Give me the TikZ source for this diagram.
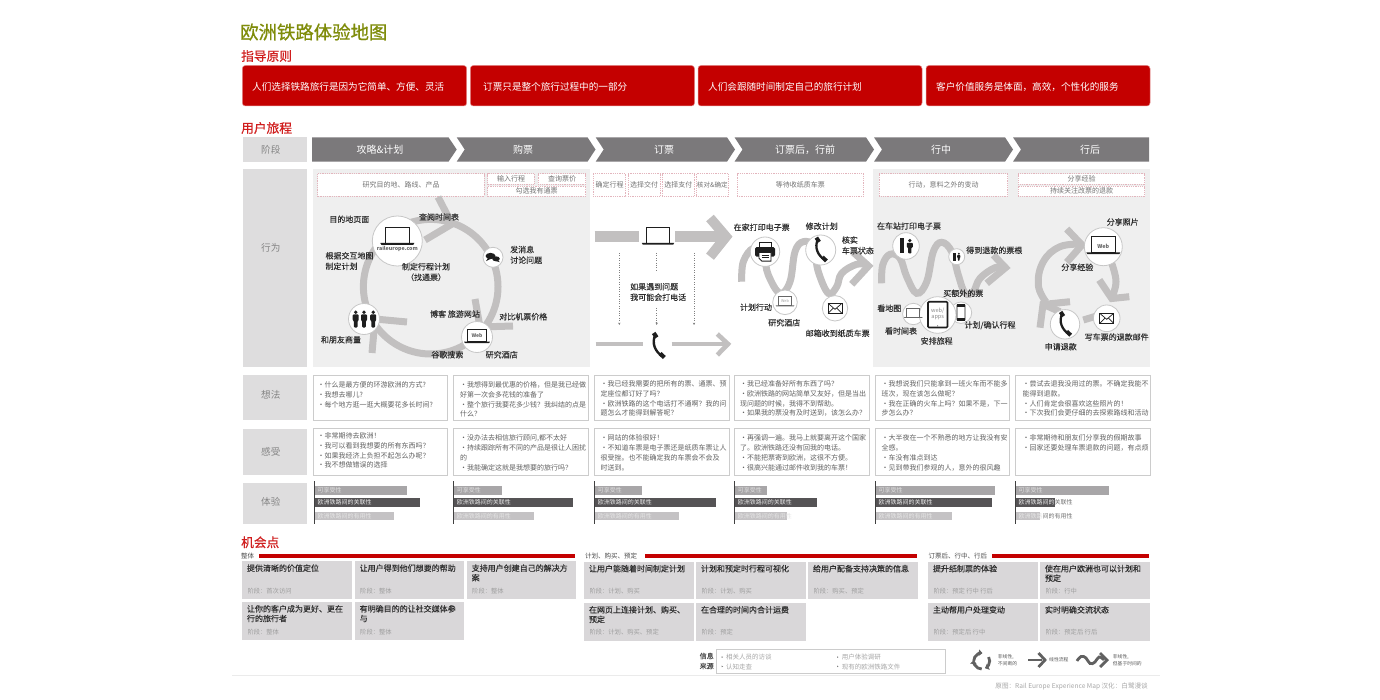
\documentclass[tikz,border=0pt]{standalone}
\usepackage{fontspec}
\setmainfont{Noto Sans CJK SC}
\newfontfamily\fmed[FakeBold=0.08]{Noto Sans CJK SC}
\newfontfamily\fhead[FakeBold=0.7]{Noto Sans CJK SC}
\usetikzlibrary{arrows.meta}
\definecolor{cOlive}{HTML}{7F8C0A}
\definecolor{cHead}{HTML}{D01E1E}
\definecolor{cRed}{HTML}{C40000}
\definecolor{cChev}{HTML}{7B797B}
\definecolor{cLab}{HTML}{DEDDDE}
\definecolor{cPanel}{HTML}{EFEFEF}
\definecolor{cTrack}{HTML}{C2C0C0}
\definecolor{cDash}{HTML}{E3B5BD}
\definecolor{cCard}{HTML}{D9D7D9}
\definecolor{cBarA}{HTML}{A8A6A8}
\definecolor{cBarB}{HTML}{555355}
\definecolor{cBarC}{HTML}{C4C2C4}
\definecolor{cIcon}{HTML}{1E1E1E}
\newcommand\fs[2]{\fontsize{#1}{#2}\selectfont}
\tikzset{
  tboxbase/.style={inner sep=0pt,outer sep=0pt,align=center},
  heading/.style={anchor=west,inner sep=0pt,text=cHead,font=\fhead\fs{12.7}{14}},
  redbox/.style={tboxbase,fill=cRed,draw=cRed!45,line width=.5pt,rounded corners=3pt},
  labbox/.style={tboxbase,fill=cLab},
  labtxt/.style={inner sep=0pt,text=black!48,font=\fs{9.6}{12}},
  dashbox/.style={tboxbase,fill=white,draw=cDash,line width=.5pt,dash pattern=on 1pt off .8pt,text=black!55,font=\fs{7}{9}},
  thinkbox/.style={tboxbase,fill=white,draw=black!20,line width=.9pt},
  thinktxt/.style={anchor=north west,inner sep=0pt,align=left,text=black!62,font=\fs{7}{9.8}},
  stagetxt/.style={inner sep=0pt,text=white,font=\fs{10}{12}},
  stagefill/.style={fill=cChev},
  track/.style={draw=cTrack,line width=7pt,line join=miter,line cap=butt},
  wcirc/.style={circle,draw=black!22,fill=white,line width=.8pt,inner sep=0pt,outer sep=0pt},
  lbl/.style={inner sep=0pt,align=left,text=black!82,font=\fmed\fs{8}{10}},
  cardbox/.style={tboxbase,fill=cCard},
  cardt/.style={anchor=north west,inner sep=0pt,align=left,text=black!82,font=\fmed\fs{8}{9.6}},
  cards/.style={anchor=west,inner sep=0pt,text=black!38,font=\fs{6.3}{8}},
  bartxt/.style={anchor=west,inner sep=0pt,font=\fs{6}{7}},
  grp/.style={anchor=west,inner sep=0pt,text=black!70,font=\fs{6.5}{8}},
  src/.style={anchor=west,inner sep=0pt,text=black!35,font=\fs{6.5}{8}},
  legt/.style={anchor=west,inner sep=0pt,align=left,text=black!65,font=\fs{4.8}{6.6}},
}
% box from corners
\newcommand\cbox[7]{%
  \pgfmathsetmacro\bw{#5-#3}\pgfmathsetmacro\bh{#6-#4}%
  \pgfmathsetmacro\bx{(#3+#5)/2}\pgfmathsetmacro\by{(#4+#6)/2}%
  \node[#2,minimum width=\bw pt,minimum height=\bh pt] (#1) at (\bx,\by) {#7};}
\newcommand\stagepoly[2]{\fill[stagefill] (#1,137.3) -- (#2-8,137.3) -- (#2,149.5) -- (#2-8,161.7) -- (#1,161.7) -- (#1+8,149.5) -- cycle;}
\newcommand\thought[4]{\node[thinktxt] (#1) at (#2,#3) {#4};}
\newcommand\expbars[8]{%
  \fill[cBarA] (#2,486) rectangle (#3,494.7);
  \fill[cBarB] (#2,498.3) rectangle (#4,507);
  \fill[cBarC] (#2,511.7) rectangle (#5,520.3);
  \draw[draw=black!75,line width=.9pt] (#2,481) -- (#2,524.3);
  \node[bartxt,text=white!88!black] (#1a) at (#2+3,490.3) {#6};
  \node[bartxt,text=white!92!black] (#1b) at (#2+3,502.7) {#7};
  \node[bartxt,text=white!90!black] (#1c) at (#2+3,516) {#8};}
\newcommand\oppcard[8]{%
  \cbox{#1}{cardbox}{#2}{#3}{#4}{#5}{}
  \node[cardt] (#1t) at ([shift={(4.5,3.2)}]#1.north west) {#6};
  \node[cards] (#1s) at (#2+5,#8) {#7};}
\newcommand\iconLaptop[4]{% cx, y of screen bottom, scale, colour
  \begin{scope}[shift={(#1,#2)},scale=#3]
    \fill[white] (-12,-16) rectangle (12,0);
    \draw[draw=#4,line width=.9pt] (-12,-16) rectangle (12,0);
    \fill[#4] (-17,0) -- (17,0) -- (16,1.8) -- (-16,1.8) -- cycle;
  \end{scope}}
\newcommand\iconEnv[2]{%
  \begin{scope}[shift={(#1,#2)}]
    \draw[draw=cIcon,line width=.9pt,fill=white] (-7,-5) rectangle (7,5);
    \draw[draw=cIcon,line width=.7pt] (-7,-5) -- (0,1) -- (7,-5) (-7,5) -- (-1.5,-.5) (7,5) -- (1.5,-.5);
  \end{scope}}
\newcommand\iconPhone[3]{%
  \begin{scope}[shift={(#1,#2)},scale=#3]
    \draw[draw=cIcon,line width=#3*2.4pt] (-3,-11) .. controls (-7,-3) and (-3,6) .. (4,10);
    \draw[draw=cIcon,line width=#3*4.2pt] (-4.6,-13) -- (-1.6,-8.5);
    \draw[draw=cIcon,line width=#3*4.2pt] (1.8,7.5) -- (6,11.5);
  \end{scope}}
\newcommand\iconPerson[3]{%
  \begin{scope}[shift={(#1,#2)},scale=#3]
    \fill[cIcon] (0,-6.4) circle[radius=1.9];
    \fill[cIcon,rounded corners=1pt] (-3,-4.2) -- (3,-4.2) -- (3,2) -- (1.8,2) -- (1.8,9) -- (-1.8,9) -- (-1.8,2) -- (-3,2) -- cycle;
  \end{scope}}
\newcommand\iconGate[3]{%
  \begin{scope}[shift={(#1,#2)},scale=#3]
    \fill[cIcon] (-6,-7.6) rectangle (-1.7,7.4);
    \fill[cIcon] (3.8,-5.4) circle[radius=1.8];
    \fill[cIcon,rounded corners=.8pt] (.8,-3.2) -- (6.8,-3.2) -- (6.8,1.5) -- (5.4,1.5) -- (5.4,7.4) -- (2.2,7.4) -- (2.2,1.5) -- (.8,1.5) -- cycle;
  \end{scope}}
\begin{document}
\begin{tikzpicture}[x=1pt,y=-1pt]
\useasboundingbox (0,0) rectangle (1380,700);
\fill[white] (0,0) rectangle (1380,700);
% ---------- headings
\node[anchor=west,inner sep=0pt,text=cOlive,font=\fhead\fs{18.4}{20}] (title) at (240,32) {欧洲铁路体验地图};
\node[heading] (hA) at (241,56) {指导原则};
\node[heading] (hB) at (241,128) {用户旅程};
\node[heading] (hC) at (241,542.3) {机会点};
% ---------- principles
\cbox{pA}{redbox}{242.3}{65.5}{466.7}{106}{}
\cbox{pB}{redbox}{470.3}{65.5}{694.5}{106}{}
\cbox{pC}{redbox}{698}{65.5}{922}{106}{}
\cbox{pD}{redbox}{926}{65.5}{1150}{106}{}
\tikzset{ptxt/.style={anchor=west,inner sep=0pt,text=white,font=\fs{9.6}{11}}}
\node[ptxt] (pAt) at (252,87) {人们选择铁路旅行是因为它简单、方便、灵活};
\node[ptxt] (pBt) at (483,87) {订票只是整个旅行过程中的一部分};
\node[ptxt] (pCt) at (708,87) {人们会跟随时间制定自己的旅行计划};
\node[ptxt] (pDt) at (936,87) {客户价值服务是体面，高效，个性化的服务};
% ---------- stages
\cbox{lStage}{labbox}{243.3}{137.3}{306.7}{161.7}{}
\node[labtxt] (lStageT) at (270.8,149.5) {阶段};
\fill[stagefill] (312,137.3) -- (448.5,137.3) -- (456.7,149.5) -- (448.5,161.7) -- (312,161.7) -- cycle;
\stagepoly{456.7}{595.5}
\stagepoly{595.7}{735}
\stagepoly{734.5}{874}
\stagepoly{874}{1013}
\fill[stagefill] (1013,137.3) -- (1149,137.3) -- (1149,161.7) -- (1013,161.7) -- (1021,149.5) -- cycle;
\node[stagetxt] (s1) at (380,149.5) {攻略\&计划};
\node[stagetxt] (s2) at (523,149.5) {购票};
\node[stagetxt] (s3) at (664,149.5) {订票};
\node[stagetxt] (s4) at (805,149.5) {订票后，行前};
\node[stagetxt] (s5) at (941,149.5) {行中};
\node[stagetxt] (s6) at (1090,149.5) {行后};
% ---------- behaviour panels
\cbox{lAct}{labbox}{243.3}{169}{306.7}{366.5}{}
\node[labtxt] (lActT) at (270.8,248) {行为};
\fill[cPanel] (313,169) rectangle (590,366.5);
\fill[cPanel] (873.3,169) rectangle (1150,366.5);
\cbox{d1}{dashbox}{317.7}{173.7}{484.3}{196.3}{研究目的地、路线、产品}
\cbox{d2}{dashbox}{487.7}{173.7}{534.3}{184}{输入行程}
\cbox{d3}{dashbox}{538.3}{173.7}{585.7}{184}{查询票价}
\cbox{d4}{dashbox}{487.7}{186}{585.7}{196.3}{勾选我有通票}
\cbox{d5}{dashbox}{593.3}{173.7}{625.7}{196.3}{确定行程}
\cbox{d6}{dashbox}{628}{173.7}{660.3}{196.3}{选择交付}
\cbox{d7}{dashbox}{662.3}{173.7}{694.3}{196.3}{选择支付}
\cbox{d8}{dashbox}{696}{173.7}{728.7}{196.3}{\fs{6.6}{9}核对\&确定}
\cbox{d9}{dashbox}{737}{173.7}{863.7}{196.3}{等待收纸质车票}
\cbox{d10}{dashbox}{879.3}{173.7}{1007.7}{196.3}{行动，意料之外的变动}
\cbox{d11}{dashbox}{1018.3}{173.7}{1144.7}{184.5}{分享经验}
\cbox{d12}{dashbox}{1018.3}{186}{1144.7}{196.3}{持续关注改票的退款}
% ---------- loop 1 (planning)
\draw[track] (430.7,286.7) circle[radius=67.3];
\draw[track] (438,197) -- (452,224) -- (425,240);
\draw[track] (475,299) -- (480,327) -- (513,326);
\draw[track] (407,322) -- (375,319) -- (372,353);
\node[wcirc,minimum size=50pt] (cRail) at (397.3,241) {};
\node[wcirc,minimum size=20pt] (cChat) at (493,257.3) {};
\node[wcirc,minimum size=31pt] (cPeople) at (364,319) {};
\node[wcirc,minimum size=31pt] (cWebA) at (477,337) {};
\iconLaptop{397.3}{243}{1}{cIcon}
\node[inner sep=0pt,text=black!60,font=\fs{5.3}{6}\bfseries] (tRail) at (397.3,248.6) {raileurope.com};
\fill[cIcon] (490.5,256) ellipse[x radius=5,y radius=3.1];
\fill[cIcon] (488,258) -- (486,261.2) -- (491,258.6) -- cycle;
\fill[cIcon] (496,258.8) ellipse[x radius=3.8,y radius=2.5];
\fill[cIcon] (497.5,260) -- (500,262.2) -- (495.6,261) -- cycle;
\iconPerson{355.7}{318.6}{1}
\iconPerson{364}{318.6}{1}
\iconPerson{373.2}{318.6}{1}
\iconLaptop{477}{341.7}{.76}{cIcon}
\node[inner sep=0pt,text=black!60,font=\fs{5}{6}\bfseries] (tWebA) at (477,335.7) {Web};
\node[lbl] (a1) at (349.3,219.3) {目的地页面};
\node[lbl] (a2) at (439,217) {查阅时间表};
\node[lbl,anchor=west,font=\fmed\fs{8}{10.6}] (a3) at (325.3,261) {根据交互地图\\制定计划};
\node[lbl,anchor=west,font=\fmed\fs{8}{10.6}] (a4) at (510,254.8) {发消息\\讨论问题};
\node[lbl,align=center,font=\fmed\fs{8}{10.6}] (a5) at (426,272) {制定行程计划\\（找通票）};
\node[lbl] (a6) at (455,314) {博客 旅游网站};
\node[lbl] (a7) at (523.3,316.7) {对比机票价格};
\node[lbl] (a8) at (341,339.7) {和朋友商量};
\node[lbl] (a9) at (447.3,354.7) {谷歌搜索};
\node[lbl] (a10) at (501.7,354.7) {研究酒店};
% ---------- ticket lane
\draw[draw=cTrack,line width=11pt] (594.7,236.7) -- (639.3,236.7);
\draw[draw=cTrack,line width=11pt] (675.3,236.7) -- (724,236.7);
\draw[draw=cTrack,line width=10pt,line join=miter] (710,218) -- (726,236.7) -- (710,256.7);
\iconLaptop{658}{243}{.95}{cIcon}
\tikzset{dots/.style={draw=black!50,line width=.5pt,dash pattern=on .8pt off 1.6pt,-{Stealth[length=2.4pt,width=2.4pt]}}}
\draw[dots] (619.3,253) -- (619.3,325);
\draw[dots,-] (656.7,253) -- (656.7,271);
\draw[dots] (656.7,308) -- (656.7,325);
\draw[dots] (694,253) -- (694,325);
\node[lbl,anchor=west,font=\fmed\fs{8}{10.6}] (b1) at (630,292) {如果遇到问题\\我可能会打电话};
\draw[draw=cTrack,line width=4.6pt] (595.7,344) -- (643.3,344);
\draw[draw=cTrack,line width=4.6pt] (671.7,344) -- (726,344);
\draw[draw=cTrack,line width=4.6pt,line join=miter] (717.3,334) -- (728,344) -- (717.3,355);
\iconPhone{658.3}{346}{1}
% ---------- snake after booking
\draw[track] plot[smooth,tension=.65] coordinates {(741.7,281.7) (743.3,261.7) (753.3,248.3) (763.3,255) (768.3,275) (780,293.3) (790,281.7) (795,251.7) (803.3,241.7) (813.3,246.7) (818.3,271.7) (828.3,293.3) (836.7,286.7) (841.7,273.3) (856.7,264.3) (868,265)};
\draw[track] (853.3,252.3) -- (868.5,266) -- (851.7,284.3);
\node[wcirc,minimum size=29.4pt] (cPrint) at (765,251.7) {};
\node[wcirc,minimum size=30pt] (cPhoneA) at (820.7,250) {};
\node[wcirc,minimum size=24.6pt] (cWebB) at (785,302.3) {};
\node[wcirc,minimum size=25.4pt] (cEnvA) at (835,308.3) {};
\begin{scope}[shift={(765,251.7)}]
  \draw[draw=cIcon,line width=.9pt,fill=white] (-6,-9.5) rectangle (6,-4);
  \fill[cIcon,rounded corners=1.5pt] (-10,-4.5) rectangle (10,5);
  \draw[draw=cIcon,line width=.9pt,fill=white] (-6,.8) -- (6,.8) -- (6,9.5) -- (-3,9.5) -- (-6,6.5) -- cycle;
  \draw[draw=cIcon,line width=.6pt] (-3.5,3.4) -- (3.5,3.4) (-3,6) -- (3.5,6);
\end{scope}
\iconPhone{820.7}{250}{.95}
\iconLaptop{785}{305.3}{.55}{black!60}
\node[inner sep=0pt,text=black!38,font=\fs{3.8}{4}] (tWebB) at (785,301.2) {Web};
\iconEnv{835}{308.3}
\node[lbl] (c1) at (761.7,227.3) {在家打印电子票};
\node[lbl] (c2) at (821.7,226.3) {修改计划};
\node[lbl,anchor=west,font=\fmed\fs{8}{10.6}] (c3) at (841.7,245.3) {核实\\车票状态};
\node[lbl] (c4) at (756,307.3) {计划行动};
\node[lbl] (c5) at (784.3,322.7) {研究酒店};
\node[lbl] (c6) at (837.7,333.3) {邮箱收到纸质车票};
% ---------- snake on the way
\draw[track] plot[smooth,tension=.65] coordinates {(881.7,283.3) (882.7,265) (890,254.3) (900,258.3) (906.7,276.7) (916.7,293.3) (926.7,281.7) (933.3,251.7) (941.7,242.3) (951.7,251.7) (958.3,275) (965,293) (973.3,291.7) (980,278.3) (995,267.7) (1005,267.7)};
\draw[track] (993.3,255) -- (1005.5,267.7) -- (986.7,283.3);
\node[wcirc,minimum size=26.6pt] (cGateA) at (906,246) {};
\node[wcirc,minimum size=16pt] (cGateB) at (956.7,256.7) {};
\node[wcirc,minimum size=21.4pt] (cLap) at (913.3,314) {};
\node[wcirc,minimum size=21.4pt] (cMob) at (961,312.7) {};
\node[wcirc,minimum size=36.6pt] (cTab) at (937.7,315) {};
\iconGate{906}{246}{1}
\iconGate{956.7}{256.7}{.55}
\iconLaptop{913.3}{317}{.55}{black!60}
\draw[draw=cIcon,line width=1.7pt,rounded corners=1pt,fill=white] (928,301.8) rectangle (947.5,327.5);
\fill[cIcon] (937.7,325.8) circle[radius=.5];
\node[inner sep=0pt,align=center,text=black!45,font=\fs{5.6}{6.2}] (tTab) at (937.7,314.3) {web/\\apps};
\draw[draw=cIcon,line width=.8pt,rounded corners=.8pt,fill=white] (957,304.5) rectangle (965,320.5);
\fill[cIcon] (957,304.5) rectangle (965,306.6);
\fill[cIcon] (957,318.4) rectangle (965,320.5);
\node[lbl] (e1) at (909,226) {在车站打印电子票};
\node[lbl] (e2) at (994.3,250.3) {得到退款的票根};
\node[lbl] (e3) at (963.3,293.3) {买额外的票};
\node[lbl] (e4) at (889.3,308.3) {看地图};
\node[lbl] (e5) at (901,331) {看时间表};
\node[lbl] (e6) at (936.7,341) {安排旅程};
\node[lbl] (e7) at (990,325.3) {计划/确认行程};
% ---------- loop after the trip
\draw[track] plot[smooth,tension=.7] coordinates {(1046,302) (1038.3,285) (1043.3,261.7) (1060,246.7) (1082,244.3)};
\draw[track] (1066.7,229) -- (1082,245) -- (1066.7,262.3);
\draw[track] plot[smooth,tension=.7] coordinates {(1111.7,263.3) (1116,281.7) (1111.7,298)};
\draw[track] (1099.3,280) -- (1111.7,298.5) -- (1129.3,296.7);
\draw[track] (1100,315) -- (1083.3,320);
\draw[track] (1060,311.7) -- (1043.5,304.5);
\draw[track] (1040,327.7) -- (1043,304.5) -- (1070,301.7);
\node[wcirc,minimum size=38pt] (cWebC) at (1103.3,246.7) {};
\node[wcirc,minimum size=26.6pt] (cEnvB) at (1106.7,318.3) {};
\node[wcirc,minimum size=29.4pt] (cPhoneB) at (1065,324.3) {};
\iconLaptop{1103.3}{252.3}{1}{cIcon}
\node[inner sep=0pt,text=black!60,font=\fs{5.4}{6}\bfseries] (tWebC) at (1103.3,246) {Web};
\iconEnv{1106.7}{318.3}
\iconPhone{1065}{324.3}{.95}
\node[lbl] (f1) at (1122.7,222) {分享照片};
\node[lbl] (f2) at (1077.3,267.3) {分享经验};
\node[lbl] (f3) at (1116.7,337) {写车票的退款邮件};
\node[lbl] (f4) at (1060.7,346.7) {申请退款};
% ---------- thoughts
\cbox{lThink}{labbox}{243.3}{375.3}{306.7}{420}{}
\node[labtxt] (lThinkT) at (270.8,394.5) {想法};
\cbox{lFeel}{labbox}{243.3}{428.7}{306.7}{475.3}{}
\node[labtxt] (lFeelT) at (270.8,451.5) {感受};
\cbox{lExp}{labbox}{243.3}{482.7}{306.7}{524}{}
\node[labtxt] (lExpT) at (270.8,502) {体验};
\foreach \nm/\xa/\xb in {1/313.3/447.7,2/453.7/588.3,3/594/729,4/734.3/869,5/875/1009.7,6/1015.3/1150.3}{
  \cbox{th\nm}{thinkbox}{\xa}{375}{\xb}{420}{}
  \cbox{fe\nm}{thinkbox}{\xa}{428.7}{\xb}{475.3}{}
}
\thought{tt1}{317.3}{381.3}{·什么是最方便的环游欧洲的方式?\\·我想去哪儿?\\·每个地方逛一逛大概要花多长时间?}
\thought{tt2}{460}{381.3}{·我想得到最优惠的价格，但是我已经做\\好第一次会多花钱的准备了\\·整个旅行我要花多少钱？我纠结的点是\\什么？}
\thought{tt3}{600.5}{380.3}{·我已经我需要的把所有的票、通票、预\\定座位都订好了吗？\\·欧洲铁路的这个电话打不通啊？我的问\\题怎么才能得到解答呢？}
\thought{tt4}{740}{380.3}{·我已经准备好所有东西了吗？\\·欧洲铁路的网站简单又友好，但是当出\\现问题的时候，我得不到帮助。\\·如果我的票没有及时送到，该怎么办？}
\thought{tt5}{881.5}{380.3}{·我想说我们只能拿到一班火车而不能多\\班次，现在该怎么做呢？\\·我在正确的火车上吗？如果不是，下一\\步怎么办？}
\thought{tt6}{1022.5}{380.3}{·尝试去退我没用过的票。不确定我能不\\能得到退款。\\·人们肯定会很喜欢这些照片的！\\·下次我们会更仔细的去探索路线和活动}
\thought{ft1}{317.3}{432.5}{·非常期待去欧洲！\\·我可以看到我想要的所有东西吗？\\·如果我经济上负担不起怎么办呢？\\·我不想做错误的选择}
\thought{ft2}{460}{434.8}{·没办法去相信旅行顾问,都不太好\\·持续跟踪所有不同的产品是很让人困扰\\的\\·我能确定这就是我想要的旅行吗？}
\thought{ft3}{600.5}{434.5}{·网站的体验很好！\\·不知道车票是电子票还是纸质车票让人\\很受挫。也不能确定我的车票会不会及\\时送到。}
\thought{ft4}{740}{434.5}{·再强调一遍。我马上就要离开这个国家\\了。欧洲铁路还没有回我的电话。\\·不能把票寄到欧洲，这很不方便。\\·很高兴能通过邮件收到我的车票！}
\thought{ft5}{881.5}{434.5}{·大半夜在一个不熟悉的地方让我没有安\\全感。\\·车没有准点到达\\·见到带我们参观的人，意外的很风趣}
\thought{ft6}{1022.5}{434.5}{·非常期待和朋友们分享我的假期故事\\·回家还要处理车票退款的问题，有点烦}
% ---------- experience bars
\expbars{xa}{314.3}{406.7}{420.3}{394.3}{可享受性}{欧洲铁路间的关联性}{欧洲铁路间的有用性}
\expbars{xb}{453.7}{501.7}{573}{534.3}{可享受性}{欧洲铁路间的关联性}{欧洲铁路间的有用性}
\expbars{xc}{594.7}{641.7}{715.7}{679}{可享受性}{欧洲铁路间的关联性}{欧洲铁路间的有用性}
\expbars{xd}{734.7}{767}{817.3}{787.3}{可享受性}{欧洲铁路间的关联性}{欧洲铁路间的有用性}
\expbars{xe}{875.3}{994.7}{992}{952}{可享受性}{欧洲铁路间的关联性}{欧洲铁路间的有用性}
\expbars{xf}{1015.3}{1109.3}{1055}{1040}{可享受性}{欧洲铁路间的{\color{black!55}关联性}}{欧洲铁路{\color{black!55}间的有用性}}
% ---------- opportunities
\node[grp] (g1) at (241,555.7) {整体};
\fill[cRed] (259,553.5) rectangle (575,557.7);
\node[grp] (g2) at (585,555.7) {计划、购买、预定};
\fill[cRed] (645,553.5) rectangle (917.3,557.7);
\node[grp] (g3) at (928.3,555.7) {订票后、行中、行后};
\fill[cRed] (992.3,553.5) rectangle (1149.3,557.7);
\oppcard{o1}{242.3}{561}{351.7}{599}{提供清晰的价值定位}{阶段：首次访问}{591.3}
\oppcard{o2}{355}{561}{463.7}{599}{让用户得到他们想要的帮助}{阶段：整体}{591.3}
\oppcard{o3}{467}{561}{575.7}{599}{支持用户创建自己的解决方\\案}{阶段：整体}{591.3}
\oppcard{o4}{242.3}{601.7}{351.7}{640}{让你的客户成为更好、更在\\行的旅行者}{阶段：整体}{632}
\oppcard{o5}{355}{601.7}{463.7}{640}{有明确目的的让社交媒体参\\与}{阶段：整体}{632}
\oppcard{o6}{584.3}{561.5}{693.7}{599.3}{让用户能随着时间制定计划}{阶段：计划、购买}{591.3}
\oppcard{o7}{696.3}{561.5}{805.7}{599.3}{计划和预定时行程可视化}{阶段：计划、购买}{591.3}
\oppcard{o8}{808.3}{561.5}{917.7}{599.3}{给用户配备支持决策的信息}{阶段：购买、预定}{591.3}
\oppcard{o9}{584.3}{602.7}{693.7}{641}{在网页上连接计划、购买、\\预定}{阶段：计划、购买、预定}{632}
\oppcard{o10}{696.3}{602.7}{805.7}{641}{在合理的时间内合计运费}{阶段：预定}{632}
\oppcard{o11}{928.3}{561.5}{1037.7}{599.3}{提升纸制票的体验}{阶段：预定 行中 行后}{591.3}
\oppcard{o12}{1040.3}{561.5}{1149.7}{599.3}{使在用户欧洲也可以计划和\\预定}{阶段：行中}{591.3}
\oppcard{o13}{928.3}{602.7}{1037.7}{641}{主动帮用户处理变动}{阶段：预定后 行中}{632}
\oppcard{o14}{1040.3}{602.7}{1149.7}{641}{实时明确交流状态}{阶段：预定后 行后}{632}
% ---------- sources
\node[inner sep=0pt,align=center,text=black!70,font=\fmed\fs{7}{10}] (srcT) at (706.7,661) {信息\\来源};
\cbox{srcB}{thinkbox}{716.7}{649.3}{945.3}{673.3}{}
\foreach \bxx/\byy in {721.7/656.3,721.7/665.6,837/656.3,837/665.6}{\fill[black!50] (\bxx,\byy) -- (\bxx+1.5,\byy+.8) -- (\bxx,\byy+1.6) -- cycle;}
\node[src] (s1a) at (726,656.6) {相关人员的访谈};
\node[src] (s1b) at (726,666.6) {认知走查};
\node[src] (s2a) at (841.7,656.6) {用户体验调研};
\node[src] (s2b) at (841.7,666.6) {现有的欧洲铁路文件};
% ---------- legend
\tikzset{legarc/.style={draw=black!62,line width=2.8pt}}
\draw[legarc,-{Triangle[length=3.6pt,width=6.5pt]}] (973.7,661) arc[start angle=180,end angle=275,radius=8];
\draw[legarc,-{Triangle[length=3.6pt,width=6.5pt]}] (988.6,657) arc[start angle=-30,end angle=65,radius=8];
\draw[legarc,-{Triangle[length=3.6pt,width=6.5pt]}] (981.7,669) arc[start angle=90,end angle=185,radius=8];
\node[legt] (lg1) at (997.7,660) {非线性,\\不间断的};
\draw[legarc] (1028,660) -- (1042,660);
\draw[legarc,line join=miter] (1038.5,653) -- (1045,660) -- (1038.5,667);
\node[legt] (lg2) at (1049,660) {线性流程};
\draw[legarc] plot[smooth,tension=.8] coordinates {(1077,661) (1081,656.5) (1086,658) (1090,663.5) (1095,662) (1099,657) (1104,660)};
\draw[legarc,line join=miter] (1100,653) -- (1107,660) -- (1100,667);
\node[legt] (lg3) at (1112.7,660) {非线性,\\但基于时间的};
\draw[draw=black!8,line width=.6pt] (232,675) -- (1160,675);
\node[anchor=east,inner sep=0pt,text=black!35,font=\fs{6.6}{8}] (foot) at (1148,686.7) {原图：Rail Europe Experience Map  汉化：白鹭漫谈};
\end{tikzpicture}
\end{document}
